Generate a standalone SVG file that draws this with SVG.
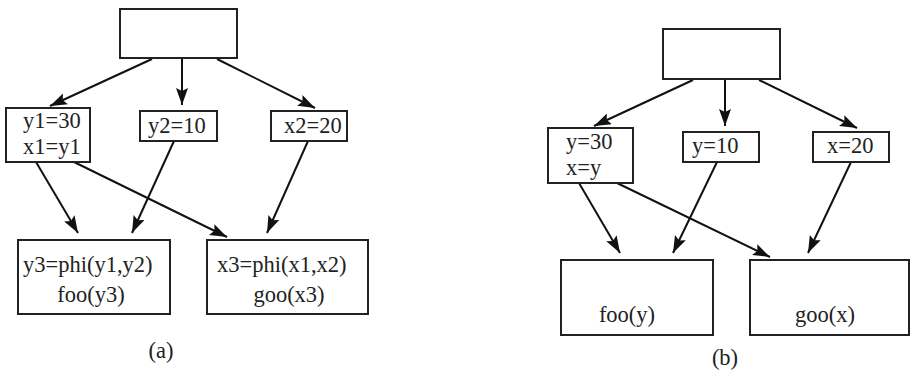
<svg xmlns="http://www.w3.org/2000/svg" width="912" height="373" viewBox="0 0 912 373">
<style>
.n rect{fill:#fff;stroke:#222;stroke-width:2}
text{font-family:"Liberation Serif","Times New Roman",serif;font-size:22.5px;fill:#222}
.c line{stroke:#111;stroke-width:2;marker-end:url(#ah)}
.m{text-anchor:middle}
</style>
<defs>
<marker id="ah" markerUnits="userSpaceOnUse" markerWidth="20" markerHeight="14" refX="17" refY="6" orient="auto">
<path d="M0,0 L17,6 L0,12 L3,6 z" fill="#111"/>
</marker>
</defs>
<rect width="912" height="373" fill="#fff"/>
<g class="c" id="connectors">
<line x1="152" y1="59" x2="50" y2="106"/>
<line x1="182" y1="59" x2="182" y2="105"/>
<line x1="217" y1="59" x2="315" y2="108"/>
<line x1="36" y1="162" x2="78" y2="233"/>
<line x1="74" y1="162" x2="227" y2="237"/>
<line x1="174" y1="141" x2="132" y2="233"/>
<line x1="308" y1="141" x2="267" y2="233"/>
<line x1="693" y1="80" x2="594" y2="126"/>
<line x1="725" y1="80" x2="725" y2="126"/>
<line x1="759" y1="80" x2="857" y2="128"/>
<line x1="579" y1="183" x2="620" y2="253"/>
<line x1="617" y1="183" x2="770" y2="257"/>
<line x1="717" y1="162" x2="673" y2="253"/>
<line x1="851" y1="162" x2="808" y2="253"/>
</g>
<g class="n" id="a-top"><rect x="120" y="9" width="117" height="49"/></g>
<g class="n" id="a-n1"><rect x="6" y="108" width="84" height="54"/><text x="23" y="128">y1=30</text><text x="23" y="154">x1=y1</text></g>
<g class="n" id="a-n2"><rect x="140" y="111" width="77" height="30"/><text x="148" y="133">y2=10</text></g>
<g class="n" id="a-n3"><rect x="271" y="111" width="76" height="30"/><text x="284" y="133">x2=20</text></g>
<g class="n" id="a-n4"><rect x="18" y="240" width="152" height="74"/><text x="23" y="272">y3=phi(y1,y2)</text><text class="m" x="91" y="302">foo(y3)</text></g>
<g class="n" id="a-n5"><rect x="207" y="240" width="161" height="74"/><text x="217" y="272">x3=phi(x1,x2)</text><text class="m" x="289" y="302">goo(x3)</text></g>
<text class="m" x="161" y="358">(a)</text>
<g class="n" id="b-top"><rect x="663" y="29" width="117" height="50"/></g>
<g class="n" id="b-n1"><rect x="548" y="128" width="85" height="55"/><text x="566" y="149">y=30</text><text x="566" y="175">x=y</text></g>
<g class="n" id="b-n2"><rect x="683" y="132" width="76" height="30"/><text x="692" y="153">y=10</text></g>
<g class="n" id="b-n3"><rect x="813" y="132" width="76" height="30"/><text x="827" y="153">x=20</text></g>
<g class="n" id="b-n4"><rect x="561" y="260" width="152" height="75"/><text class="m" x="627" y="322">foo(y)</text></g>
<g class="n" id="b-n5"><rect x="750" y="260" width="159" height="75"/><text class="m" x="825" y="322">goo(x)</text></g>
<text class="m" x="725" y="365">(b)</text>
</svg>
